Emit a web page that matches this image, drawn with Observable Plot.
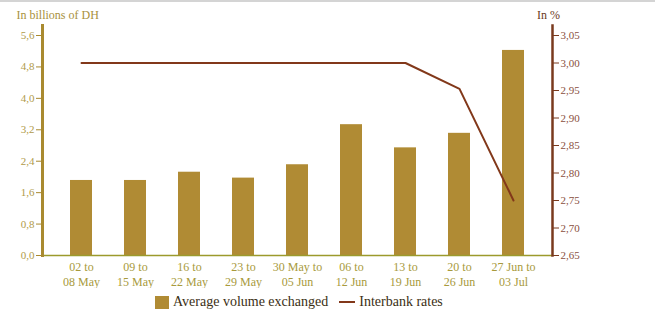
<!DOCTYPE html>
<html>
<head>
<meta charset="utf-8">
<script src="https://cdn.jsdelivr.net/npm/d3@7"></script>
<script src="https://cdn.jsdelivr.net/npm/@observablehq/plot@0.6"></script>
<style>
  body { margin: 0; background: #fff; }
  #wrap { width: 655px; height: 312px; border-top: 2px solid #d4d4d4; box-sizing: border-box; position: relative; }
  #legend { position: absolute; left: 155px; top: 292px; display: flex; align-items: center;
            font-family: "Liberation Serif", serif; font-size: 14px; color: #3b2f14; }
  .sw { width: 14px; height: 13px; background: #b08b34; margin-right: 4px; }
  .ln { width: 16px; height: 2px; background: #82381a; margin: 0 4px 0 11px; }
</style>
</head>
<body>
<div id="wrap"><div id="chart"></div>
<div id="legend"><span class="sw"></span><span>Average volume exchanged</span><span class="ln"></span><span>Interbank rates</span></div>
</div>
<script>
const weeks = ["02 to\n08 May", "09 to\n15 May", "16 to\n22 May", "23 to\n29 May", "30 May to\n05 Jun",
               "06 to\n12 Jun", "13 to\n19 Jun", "20 to\n26 Jun", "27 Jun to\n03 Jul"];
const volumes = [1.91, 1.91, 2.12, 1.97, 2.31, 3.33, 2.74, 3.11, 5.22];
const rates = [3.00, 3.00, 3.00, 3.00, 3.00, 3.00, 3.00, 2.953, 2.75];
const leftTicks = [0, 0.8, 1.6, 2.4, 3.2, 4.0, 4.8, 5.6];
const rightTicks = [2.65, 2.70, 2.75, 2.80, 2.85, 2.90, 2.95, 3.00, 3.05];

const data = weeks.map((w, i) => ({week: w, volume: volumes[i], rate: rates[i]}));

const ext = 230 / 220;
const yMax = 5.6 * ext;
const rMin = 2.65, rMax = 2.65 + 0.4 * ext;
const toLeft = d3.scaleLinear().domain([rMin, rMax]).range([0, yMax]);
const fmt1 = d => d.toFixed(1).replace(".", ",");
const fmt2 = d => toLeft.invert(d).toFixed(2).replace(".", ",");

const gold = "#a98a30", brown = "#7a3a1e";

const chart = Plot.plot({
  width: 655, height: 286,
  marginTop: 23, marginBottom: 33, marginLeft: 42, marginRight: 103,
  style: 'font-family: "Liberation Serif", serif; font-size: 11px; background: white;',
  x: {domain: weeks, paddingInner: 0.59, paddingOuter: 0.46, label: null},
  y: {domain: [0, yMax], label: null},
  marks: [
    Plot.barY(data, {x: "week", y: "volume", fill: "#b08b34"}),
    Plot.ruleY([0], {stroke: "#9c9a2c", strokeWidth: 1.5}),
    Plot.frame({anchor: "left", stroke: gold, strokeWidth: 3}),
    Plot.frame({anchor: "right", stroke: brown, strokeWidth: 2.5}),
    Plot.axisY(leftTicks, {anchor: "left", tickFormat: fmt1, tickSize: 6, tickPadding: 2, color: "#b09a4a", stroke: gold, label: null}),
    Plot.axisY(rightTicks.map(toLeft), {anchor: "right", tickFormat: fmt2, tickSize: 6, tickPadding: 2, color: "#8a5040", stroke: brown, label: null}),
    Plot.axisX({tickSize: 0, tickPadding: 5, fontSize: 12, lineHeight: 1.25, color: "#a89a3c", label: null}),
    Plot.line(data, {x: "week", y: d => toLeft(d.rate), stroke: "#82381a", strokeWidth: 2}),
    Plot.text(["In billions of DH"], {frameAnchor: "top-left", textAnchor: "start", lineAnchor: "bottom", dx: -26, dy: -7, fill: "#a8903c", fontSize: 12}),
    Plot.text(["In %"], {frameAnchor: "top-right", textAnchor: "middle", lineAnchor: "bottom", dx: -4, dy: -7, fill: "#6a3a22", fontSize: 12})
  ]
});
document.getElementById("chart").appendChild(chart);
</script>
</body>
</html>
